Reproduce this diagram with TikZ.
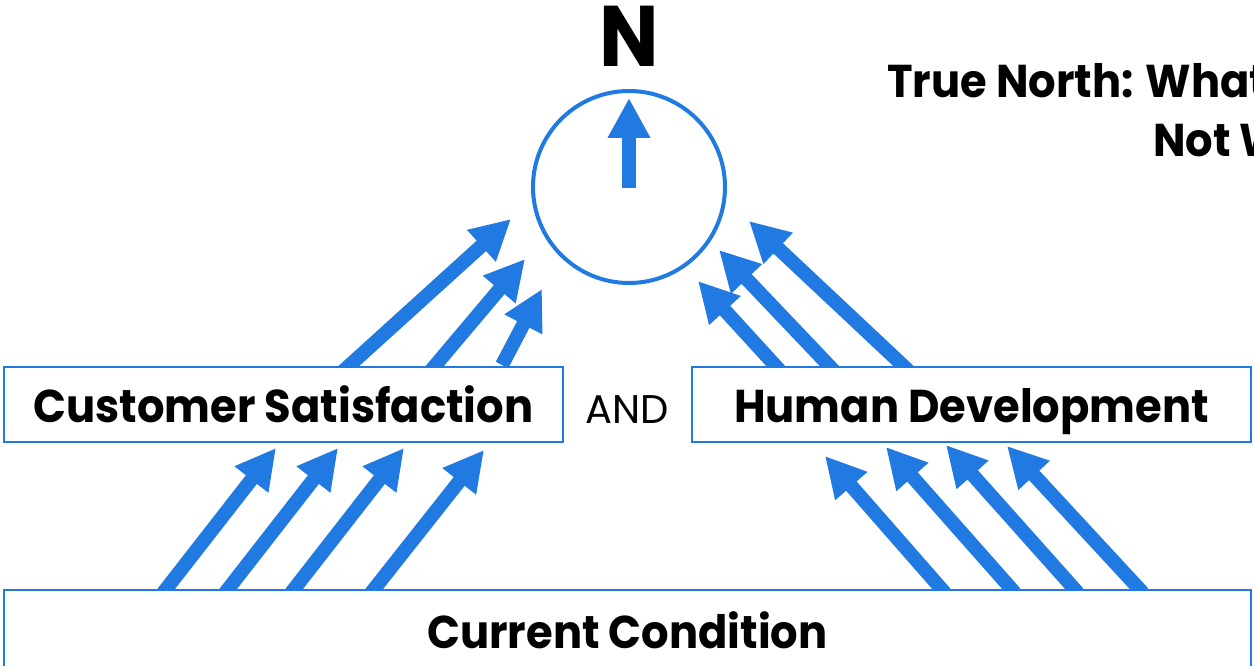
\documentclass[tikz,border=0pt]{standalone}
\usepackage{fontspec}
\setmainfont{Poppins}
\usetikzlibrary{arrows.meta}
\definecolor{nblue}{HTML}{2179E2}
\newcommand{\boxfont}{\bfseries\fontsize{46}{46}\selectfont\addfontfeature{FakeStretch=0.94}}

\begin{document}
\begin{tikzpicture}[x=1pt,y=-1pt,
  flow/.style={nblue, line width=14pt, -{Triangle[length=40pt,width=40pt]}},
  goalbox/.style={draw=nblue, line width=2pt, fill=white, minimum height=75pt,
    inner sep=0pt, text height=35pt, text depth=0pt, font=\boxfont},
  heading/.style={inner sep=0pt, font=\boxfont},
]
\useasboundingbox (0,0) rectangle (1254,666);
\clip (0,0) rectangle (1254,666);

% compass
\node[circle, draw=nblue, line width=4pt, minimum size=192pt, inner sep=0pt] (dial) at (629,187) {};
\node[inner sep=0pt, anchor=base, font=\bfseries\fontsize{86}{86}\selectfont\addfontfeature{FakeStretch=0.92}] (north) at (629,67) {N};
\coordinate (needle) at (629,188);
\coordinate (needletip) at (629,98);
\draw[flow] (needle) -- (needletip);

% heading
\node[heading, anchor=base west] (t1) at (887,98) {True North: What};
\node[heading, anchor=base west] (t2) at (1153,157) {Not W};

% arrows from the two goals towards the compass
\coordinate (a1s) at (340,374); \coordinate (a1e) at (511,219);
\coordinate (a2s) at (428,374); \coordinate (a2e) at (525,259);
\coordinate (a3s) at (502,365); \coordinate (a3e) at (542,289);
\draw[flow] (a1s) -- (a1e);
\draw[flow] (a2s) -- (a2e);
\draw[flow] (a3s) -- (a3e);
\coordinate (b1s) at (783,374); \coordinate (b1e) at (698,281);
\coordinate (b2s) at (837,374); \coordinate (b2e) at (719,250);
\coordinate (b3s) at (912,374); \coordinate (b3e) at (749,221);
\draw[flow] (b1s) -- (b1e);
\draw[flow] (b2s) -- (b2e);
\draw[flow] (b3s) -- (b3e);

% arrows from the current condition
\coordinate (c1s) at (163,593); \coordinate (c1e) at (276,448);
\coordinate (c2s) at (225,593); \coordinate (c2e) at (338,448);
\coordinate (c3s) at (291,593); \coordinate (c3e) at (404,448);
\coordinate (c4s) at (371,593); \coordinate (c4e) at (484,450);
\foreach \p in {c1,c2,c3,c4} \draw[flow] (\p s) -- (\p e);
\coordinate (d1s) at (945,593); \coordinate (d1e) at (825,456);
\coordinate (d2s) at (1015,593); \coordinate (d2e) at (886,447);
\coordinate (d3s) at (1078,593); \coordinate (d3e) at (946,445);
\coordinate (d4s) at (1143,593); \coordinate (d4e) at (1007,446);
\foreach \p in {d1,d2,d3,d4} \draw[flow] (\p s) -- (\p e);

% boxes
\node[goalbox, minimum width=559pt] (cs) at (283.5,404.5) {Customer Satisfaction};
\node[goalbox, minimum width=559pt] (hd) at (971.5,404.5) {Human Development};
\node[inner sep=0pt, anchor=base, font=\fontsize{40}{40}\selectfont] (and) at (627,423) {AND};
\node[goalbox, minimum width=1247pt, minimum height=80pt, text height=36pt] (cc) at (627.5,630) {Current Condition};
\end{tikzpicture}
\end{document}
